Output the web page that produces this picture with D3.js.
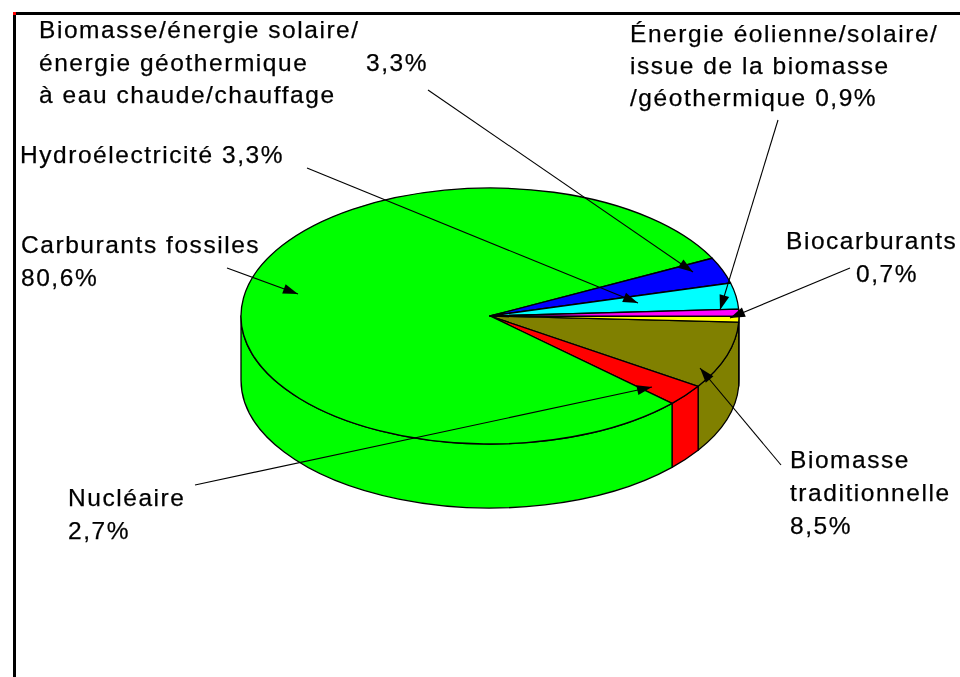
<!DOCTYPE html>
<html><head><meta charset="utf-8">
<script src="https://cdn.jsdelivr.net/npm/d3@7"></script>
<style>html,body{margin:0;padding:0;background:#fff}svg{display:block}text{font-family:"Liberation Sans",Arial,sans-serif;font-size:24.5px;letter-spacing:1.55px;fill:#000;stroke:#000;stroke-width:.25px;filter:blur(.35px)}</style>
</head><body><svg id="c" width="960" height="677"></svg>
<script>
const categories=["Biomasse traditionnelle","Nucléaire","Carburants fossiles","Biomasse/énergie solaire/énergie géothermique à eau chaude/chauffage","Hydroélectricité","Énergie éolienne/solaire/issue de la biomasse/géothermique","Biocarburants"];
const values=[8.5,2.7,80.6,3.3,3.3,0.9,0.7];
const colors=["#808000","#ff0000","#00ff00","#0000ff","#00ffff","#ff00ff","#ffff00"];
const labels=[
 {lines:["Biomasse/énergie solaire/","énergie géothermique","à eau chaude/chauffage"],x:39,y:38,dy:32.5},
 {lines:["3,3%"],x:366,y:71,dy:0},
 {lines:["Énergie éolienne/solaire/","issue de la biomasse","/géothermique 0,9%"],x:630,y:42,dy:32},
 {lines:["Hydroélectricité 3,3%"],x:20,y:163,dy:0},
 {lines:["Carburants fossiles","80,6%"],x:21,y:253,dy:32.5},
 {lines:["Biocarburants"],x:786,y:249,dy:0},
 {lines:["0,7%"],x:856,y:282,dy:0},
 {lines:["Biomasse","traditionnelle","8,5%"],x:790,y:468,dy:33},
 {lines:["Nucléaire","2,7%"],x:68,y:506,dy:33}
];
const leaders=[
 [428,90,693,272],[307,168,638,303],[227,268,298,294],[778,120,720,310],
 [850,268,730,318],[781,465,700,368],[195,485,652,387]
];
const svg=d3.select("#c");
// frame
svg.append("path").attr("d","M14.5 677V13.5H960").attr("fill","none").attr("stroke","#000").attr("stroke-width",3);
svg.append("rect").attr("x",13).attr("y",12).attr("width",3).attr("height",3).attr("fill","#f00");

const cx=490,cy=316,rx=249,ry=128,depth=64;
const start=2.7*Math.PI/180;
const pie=d3.pie().sort(null).startAngle(start).endAngle(start+2*Math.PI);
const arcs=pie(values);
const sx=d3.scaleLinear().domain([-1,1]).range([cx-rx,cx+rx]);
const sy=d3.scaleLinear().domain([-1,1]).range([cy-ry,cy+ry]);
const pt=(t,d=0)=>[sx(Math.cos(t)),sy(Math.sin(t))+d];
function topPath(a){
  const [x0,y0]=pt(a.startAngle),[x1,y1]=pt(a.endAngle);
  const large=(a.endAngle-a.startAngle)>Math.PI?1:0;
  return `M${sx(0)} ${sy(0)}L${x0} ${y0}A${rx} ${ry} 0 ${large} 1 ${x1} ${y1}Z`;
}
function sidePath(a0,a1){
  const [x0,y0]=pt(a0),[x1,y1]=pt(a1),[x2,y2]=pt(a1,depth),[x3,y3]=pt(a0,depth);
  return `M${x0} ${y0}A${rx} ${ry} 0 0 1 ${x1} ${y1}L${x2} ${y2}A${rx} ${ry} 0 0 0 ${x3} ${y3}Z`;
}
const g=svg.append("g").attr("stroke","#000").attr("stroke-width",1.3).attr("stroke-linejoin","round");
// sides: only the front half (0..PI) of each slice is visible
const sides=[{a0:0,a1:start,c:colors[6]}];
arcs.forEach((a,i)=>{const s=Math.max(a.startAngle,0),e=Math.min(a.endAngle,Math.PI);if(e>s&&i<6)sides.push({a0:s,a1:e,c:colors[i]});});
g.selectAll("path.s").data(sides).join("path").attr("class","s").attr("d",d=>sidePath(d.a0,d.a1)).attr("fill",d=>d.c);
g.selectAll("path.t").data(arcs).join("path").attr("class","t").attr("d",topPath).attr("fill",(d,i)=>colors[i]);

// leaders
leaders.forEach(l=>{
  const [x1,y1,x2,y2]=l,ang=Math.atan2(y2-y1,x2-x1),L=15,W=5;
  const bx=x2-L*Math.cos(ang),by=y2-L*Math.sin(ang);
  const px=-Math.sin(ang)*W,py=Math.cos(ang)*W;
  svg.append("line").attr("x1",x1).attr("y1",y1).attr("x2",x2).attr("y2",y2).attr("stroke","#000").attr("stroke-width",1.1);
  svg.append("path").attr("d",`M${x2} ${y2}L${bx+px} ${by+py}L${bx-px} ${by-py}Z`).attr("fill","#000");
});
// labels
labels.forEach(l=>{
  const t=svg.append("text").attr("x",l.x).attr("y",l.y);
  l.lines.forEach((s,i)=>t.append("tspan").attr("x",l.x).attr("y",l.y+i*l.dy).text(s));
});
</script></body></html>
